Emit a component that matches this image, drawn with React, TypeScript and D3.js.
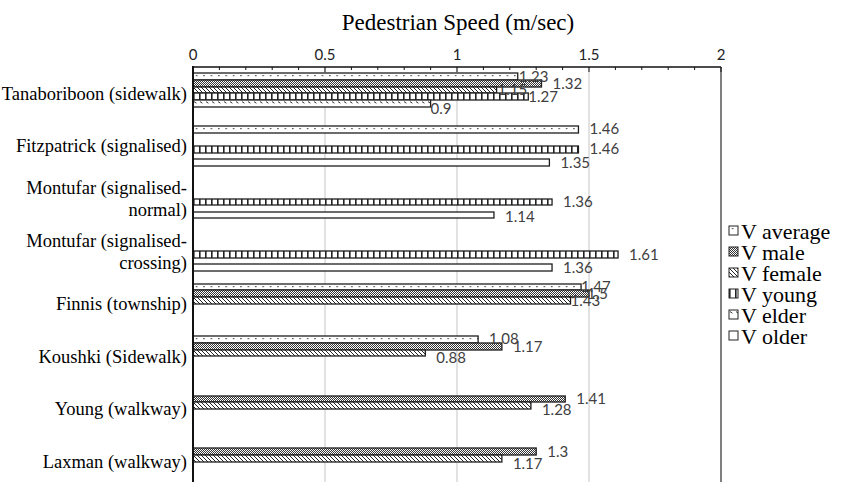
import React from 'react';
import * as d3 from 'd3';

const categories = [
	'Tanaboriboon (sidewalk)',
	'Fitzpatrick (signalised)',
	'Montufar (signalised-\nnormal)',
	'Montufar (signalised-\ncrossing)',
	'Finnis (township)',
	'Koushki (Sidewalk)',
	'Young (walkway)',
	'Laxman (walkway)',
];

const seriesNames = ['V average', 'V male', 'V female', 'V young', 'V elder', 'V older'];

const vAverage = [1.23, 1.46, null, null, 1.47, 1.08, null, null];
const vMale = [1.32, null, null, null, 1.5, 1.17, 1.41, 1.3];
const vFemale = [1.15, null, null, null, 1.43, 0.88, 1.28, 1.17];
const vYoung = [1.27, 1.46, 1.36, 1.61, null, null, null, null];
const vElder = [0.9, null, null, null, null, null, null, null];
const vOlder = [null, 1.35, 1.14, 1.36, null, null, null, null];

const xTicks = [0, 0.5, 1, 1.5, 2];
const minorTicks = d3.range(0, 2.0001, 0.1);

const seriesValues = [vAverage, vMale, vFemale, vYoung, vElder, vOlder];
const patternIds = ['p-avg', 'p-male', 'p-female', 'p-young', 'p-elder', 'p-older'];

// data label nudges (category-series), like the hand-moved labels in the original
const labelDx: Record<string, number> = {
	'0-0': 1, '0-2': 1, '0-3': 0, '0-4': 0,
	'4-0': 0, '4-1': -2, '4-2': 0,
};
const labelDy: Record<string, number> = {
	'0-4': 5, '2-5': 2, '5-0': -1, '5-2': 5, '6-2': 4, '7-2': 6,
};

const W = 841;
const H = 482;
const serif = '"Liberation Serif", "Times New Roman", serif';
const sans = 'Lato, "Open Sans", sans-serif';

export default function App() {
	const x = d3.scaleLinear().domain([0, 2]).range([193, 721]);
	const y = d3
		.scaleBand<string>()
		.domain(categories)
		.range([67, 67 + 8 * 52.6])
		.paddingInner(0.24)
		.paddingOuter(0.12);
	const inner = d3
		.scaleBand<string>()
		.domain(seriesNames)
		.range([0, y.bandwidth()]);

	const bars: any[] = [];
	const labels: any[] = [];
	categories.forEach((cat, ci) => {
		seriesNames.forEach((s, si) => {
			const v = seriesValues[si][ci];
			if (v == null) return;
			const yt = (y(cat) as number) + (inner(s) as number);
			const y0 = Math.round(yt);
			const h = Math.round(yt + inner.bandwidth()) - y0;
			const x0 = x(0);
			const w = x(v) - x0;
			const key = `${ci}-${si}`;
			bars.push(
				<g key={`b-${key}`} transform={`translate(${x0},${y0})`}>
					<rect
						x={0}
						y={0}
						width={w}
						height={h}
						fill={`url(#${patternIds[si]})`}
						stroke="#1e1e1e"
						strokeWidth={1.3}
					/>
				</g>
			);
			labels.push(
				<text
					key={`l-${key}`}
					x={x(v) + (labelDx[key] ?? 11)}
					y={yt + inner.bandwidth() / 2 + (labelDy[key] ?? 0)}
					dy="0.35em"
					fontFamily={sans}
					fontSize={15}
					fill="#404040"
				>
					{v}
				</text>
			);
		});
	});

	return (
		<svg
			width={W}
			height={H}
			style={{ position: 'absolute', left: 0, top: 0, background: '#fff' }}
		>
			<defs>
				<pattern id="p-avg" patternUnits="userSpaceOnUse" width={7.4} height={40}>
					<rect width={7.4} height={40} fill="#fff" />
					<rect x={3} y={2} width={1.2} height={1.2} fill="#222" />
				</pattern>
				<pattern id="p-male" patternUnits="userSpaceOnUse" width={2} height={2}>
					<rect width={2} height={2} fill="#fff" />
					<rect x={0} y={0} width={1} height={1} fill="#333" />
					<rect x={1} y={1} width={1} height={1} fill="#333" />
				</pattern>
				<pattern id="p-female" patternUnits="userSpaceOnUse" width={4} height={4}>
					<rect width={4} height={4} fill="#fff" />
					<path d="M0,0L4,4M-1,3L1,5M3,-1L5,1" stroke="#222" strokeWidth={1} />
				</pattern>
				<pattern id="p-young" patternUnits="userSpaceOnUse" width={6} height={40}>
					<rect width={6} height={40} fill="#fff" />
					<rect x={0} y={0} width={1.6} height={40} fill="#222" />
				</pattern>
				<pattern id="p-elder" patternUnits="userSpaceOnUse" width={6} height={40}>
					<rect width={6} height={40} fill="#fff" />
					<path d="M1,1.6L3.4,3.2" stroke="#333" strokeWidth={1} />
				</pattern>
				<pattern id="p-older" patternUnits="userSpaceOnUse" width={6} height={40}>
					<rect width={6} height={40} fill="#fff" />
				</pattern>
			</defs>

			<text
				x={458}
				y={22}
				dy="0.35em"
				textAnchor="middle"
				fontFamily={serif}
				fontSize={23}
				fill="#000"
			>
				Pedestrian Speed (m/sec)
			</text>

			{xTicks.slice(1, 4).map((t) => (
				<line
					key={`g-${t}`}
					x1={x(t)}
					x2={x(t)}
					y1={67}
					y2={H}
					stroke="#d9d9d9"
					strokeWidth={1.5}
				/>
			))}
			<line x1={x(2)} x2={x(2)} y1={67} y2={H} stroke="#555" strokeWidth={1.5} />

			{bars}

			<line x1={x(0)} x2={x(2)} y1={67} y2={67} stroke="#111" strokeWidth={1.4} />
			{minorTicks.map((t, i) => (
				<line
					key={`mt-${i}`}
					x1={x(t)}
					x2={x(t)}
					y1={67}
					y2={i % 5 === 0 ? 72 : 70}
					stroke="#111"
					strokeWidth={1}
				/>
			))}
			<line x1={x(0)} x2={x(0)} y1={66} y2={H} stroke="#111" strokeWidth={2} />

			{xTicks.map((t) => (
				<text
					key={`t-${t}`}
					x={x(t)}
					y={55}
					dy="0.35em"
					textAnchor="middle"
					fontFamily={sans}
					fontSize={15}
					fill="#222"
				>
					{t}
				</text>
			))}

			{categories.map((cat) => {
				const lines = cat.split('\n');
				const cy = (y(cat) as number) + y.bandwidth() / 2;
				return (
					<text
						key={cat}
						x={187}
						textAnchor="end"
						fontFamily={serif}
						fontSize={18.5}
						fill="#000"
					>
						{lines.map((ln, li) => (
							<tspan
								key={li}
								x={187}
								y={cy + (li - (lines.length - 1) / 2) * 22}
								dy="0.35em"
							>
								{ln}
							</tspan>
						))}
					</text>
				);
			})}

			{labels}

			{seriesNames.map((s, si) => {
				const ly = 231 + si * 21;
				return (
					<g key={s}>
						<g transform={`translate(729,${ly - 5})`}>
							<rect
								width={9}
								height={9}
								fill={`url(#${patternIds[si]})`}
								stroke="#222"
								strokeWidth={1}
							/>
						</g>
						<text
							x={741}
							y={ly}
							dy="0.35em"
							fontFamily={serif}
							fontSize={22}
							fill="#000"
						>
							{s}
						</text>
					</g>
				);
			})}
		</svg>
	);
}
